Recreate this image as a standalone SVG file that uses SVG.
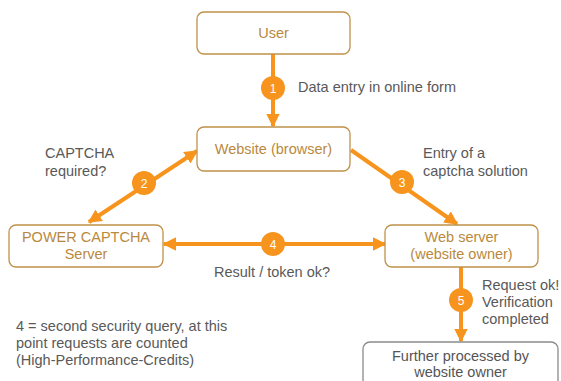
<svg xmlns="http://www.w3.org/2000/svg" width="561" height="381" viewBox="0 0 561 381">
<defs>
<style>
.box{fill:#fff;stroke:#C0914A;stroke-width:1.3}
.box2{fill:#fff;stroke:#8a8a8a;stroke-width:1.3}
.nt{font-family:"Liberation Sans",Arial,sans-serif;font-size:14.5px;fill:#B9893E;text-anchor:middle}
.nt2{font-family:"Liberation Sans",Arial,sans-serif;font-size:14.5px;fill:#555;text-anchor:middle}
.lb{font-family:"Liberation Sans",Arial,sans-serif;font-size:14.5px;fill:#595959}
.ln{stroke:#F7941D;stroke-width:4;fill:none}
.cc{fill:#F7941D}
.cn{font-family:"Liberation Sans",Arial,sans-serif;font-size:12px;fill:#fff;text-anchor:middle}
</style>
<marker id="ah" viewBox="0 0 10 10" refX="9" refY="5" markerWidth="3.4" markerHeight="3.4" orient="auto-start-reverse" markerUnits="strokeWidth">
<path d="M0,0 L10,5 L0,10 z" fill="#F7941D"/>
</marker>
</defs>
<rect width="561" height="381" fill="#fff"/>
<g id="connectors">
<line class="ln" x1="273" y1="54" x2="273" y2="126" marker-end="url(#ah)"/>
<line class="ln" x1="89" y1="222" x2="197" y2="151" marker-start="url(#ah)" marker-end="url(#ah)"/>
<line class="ln" x1="351" y1="150" x2="457" y2="224" marker-end="url(#ah)"/>
<line class="ln" x1="164" y1="244" x2="385" y2="244" marker-start="url(#ah)" marker-end="url(#ah)"/>
<line class="ln" x1="461" y1="266" x2="461" y2="341" marker-end="url(#ah)"/>
<g id="badge1"><circle class="cc" cx="273" cy="88" r="12"/><text class="cn" x="273" y="92.5">1</text></g>
<g id="badge2"><circle class="cc" cx="144" cy="183" r="12"/><text class="cn" x="144" y="187.5">2</text></g>
<g id="badge3"><circle class="cc" cx="402" cy="182" r="12"/><text class="cn" x="402" y="186.5">3</text></g>
<g id="badge4"><circle class="cc" cx="273" cy="244" r="12"/><text class="cn" x="273" y="248.5">4</text></g>
<g id="badge5"><circle class="cc" cx="461" cy="300" r="12"/><text class="cn" x="461" y="304.5">5</text></g>
</g>
<g id="user"><rect class="box" x="197" y="12" width="153" height="42" rx="7"/><text class="nt" x="273.5" y="38">User</text></g>
<g id="website"><rect class="box" x="197" y="127" width="153" height="44" rx="7"/><text class="nt" x="273.5" y="154">Website (browser)</text></g>
<g id="captcha"><rect class="box" x="9" y="225" width="154" height="42" rx="7"/><text class="nt" x="86" y="242">POWER CAPTCHA</text><text class="nt" x="86" y="259">Server</text></g>
<g id="webserver"><rect class="box" x="385" y="225" width="153" height="42" rx="7"/><text class="nt" x="461.5" y="242">Web server</text><text class="nt" x="461.5" y="259">(website owner)</text></g>
<g id="further"><rect class="box2" x="363" y="342" width="195" height="45" rx="7"/><text class="nt2" x="460.5" y="361">Further processed by</text><text class="nt2" x="460.5" y="377">website owner</text></g>
<g id="labels">
<text class="lb" x="298" y="92">Data entry in online form</text>
<text class="lb" x="45" y="158">CAPTCHA</text>
<text class="lb" x="45" y="176">required?</text>
<text class="lb" x="423" y="158">Entry of a</text>
<text class="lb" x="423" y="176">captcha solution</text>
<text class="lb" x="214" y="277">Result / token ok?</text>
<text class="lb" x="482" y="290">Request ok!</text>
<text class="lb" x="482" y="307">Verification</text>
<text class="lb" x="482" y="324">completed</text>
<text class="lb" x="16" y="331">4 = second security query, at this</text>
<text class="lb" x="16" y="348">point requests are counted</text>
<text class="lb" x="16" y="365">(High-Performance-Credits)</text>
</g>
</svg>
